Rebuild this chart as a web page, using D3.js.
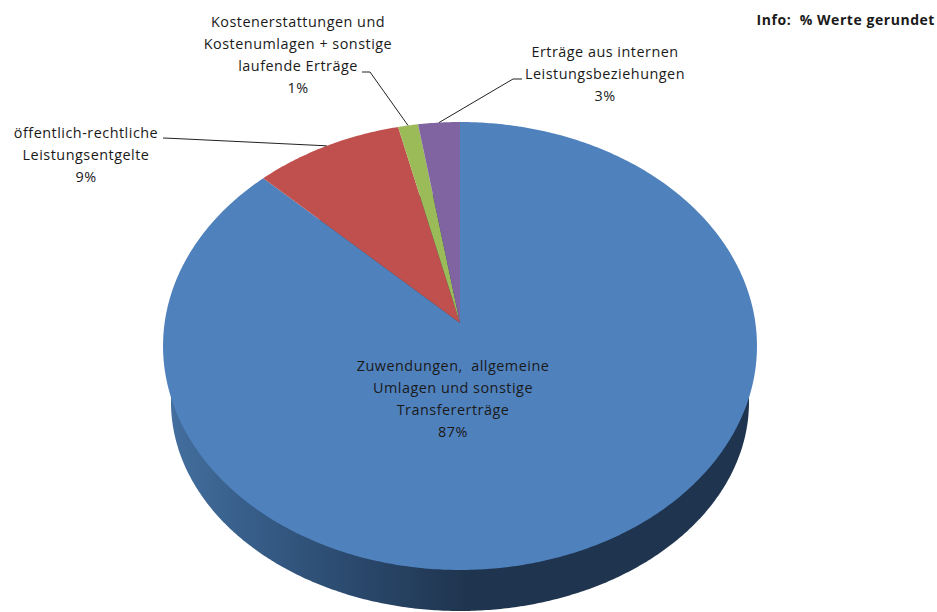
<!DOCTYPE html>
<html><head><meta charset="utf-8">
<script src="https://cdn.jsdelivr.net/npm/d3@7/dist/d3.min.js"></script>
<style>html,body{margin:0;padding:0;background:#fff}svg{display:block}</style>
</head><body><svg id="c" width="937" height="612"></svg>
<script>
const categories = ["Zuwendungen, allgemeine Umlagen und sonstige Transfererträge","öffentlich-rechtliche Leistungsentgelte","Kostenerstattungen und Kostenumlagen + sonstige laufende Erträge","Erträge aus internen Leistungsbeziehungen"];
const values = [87.35, 8.95, 1.2, 2.5];
const percentLabels = ["87%","9%","1%","3%"];
const colors = ["#4f81bd","#c0504d","#9bbb59","#8064a2"];
const labelLines = [
  ["Zuwendungen,  allgemeine","Umlagen und sonstige","Transfererträge"],
  ["öffentlich-rechtliche","Leistungsentgelte"],
  ["Kostenerstattungen und","Kostenumlagen + sonstige","laufende Erträge"],
  ["Erträge aus internen","Leistungsbeziehungen"]
];
const labelPos = [[453,371],[86,138],[298,27],[605,57]];
const elbows = [null,[[163,138],[175,138.5]],[[362,72],[370,72]],[[522,79],[513,79]]];
const infoText = "Info:  % Werte gerundet";

const svg = d3.select("#c");
const FONT = "'Open Sans', sans-serif", FS = 14.4, LH = 22, LS = 0.5;
const cx=460, cy=323, k=0.1027, sx=295.4, sy=221.6;
const proj = a => { const d=1+k*Math.cos(a); return [cx+sx*Math.sin(a)/d, cy-sy*Math.cos(a)/d]; };
const pie = d3.pie().sort(null).value(d=>d);
const arcs = pie(values);

const defs = svg.append("defs");
const g = defs.append("linearGradient").attr("id","side").attr("gradientUnits","userSpaceOnUse")
  .attr("x1",165).attr("x2",470).attr("y1",0).attr("y2",0);
[[0,"#44709f"],[0.3,"#365c87"],[0.6,"#2b4a6e"],[1,"#1f344e"]].forEach(s=>g.append("stop").attr("offset",s[0]).attr("stop-color",s[1]));

// extruded side
const botRx=289, botRy=209, botCy=402;
const line = d3.line();
svg.append("path")
  .attr("d", line(d3.range(0,2*Math.PI,0.01).map(t=>[cx+botRx*Math.sin(t), botCy-botRy*Math.cos(t)]))+"Z")
  .attr("fill","url(#side)");

// top face slices
svg.selectAll("path.slice").data(arcs).join("path").attr("class","slice")
  .attr("fill",(d,i)=>colors[i])
  .attr("d",d=>{
    const n=Math.max(4,Math.ceil((d.endAngle-d.startAngle)/0.01));
    const pts=d3.range(n+1).map(i=>proj(d.startAngle+(d.endAngle-d.startAngle)*i/n));
    return line([[cx,cy],...pts])+"Z";
  });

// leader lines
arcs.forEach((d,i)=>{
  if(!elbows[i]) return;
  const p=proj((d.startAngle+d.endAngle)/2);
  svg.append("path").attr("d",line([...elbows[i],p])).attr("fill","none").attr("stroke","#222").attr("stroke-width",1);
});

// labels
labelLines.forEach((ls,i)=>{
  const t=svg.append("text").attr("text-anchor","middle").attr("font-family",FONT).attr("font-size",FS).attr("letter-spacing",LS).attr("fill","#1a1a1a");
  [...ls,percentLabels[i]].forEach((s,j)=>t.append("tspan").attr("x",labelPos[i][0]).attr("y",labelPos[i][1]+j*LH).style("white-space","pre").text(s));
});
svg.append("text").attr("x",935).attr("y",25).attr("text-anchor","end").attr("font-family",FONT).attr("font-size",14).attr("letter-spacing",0.55).attr("font-weight","bold").attr("fill","#1a1a1a").style("white-space","pre").text(infoText);
</script></body></html>
